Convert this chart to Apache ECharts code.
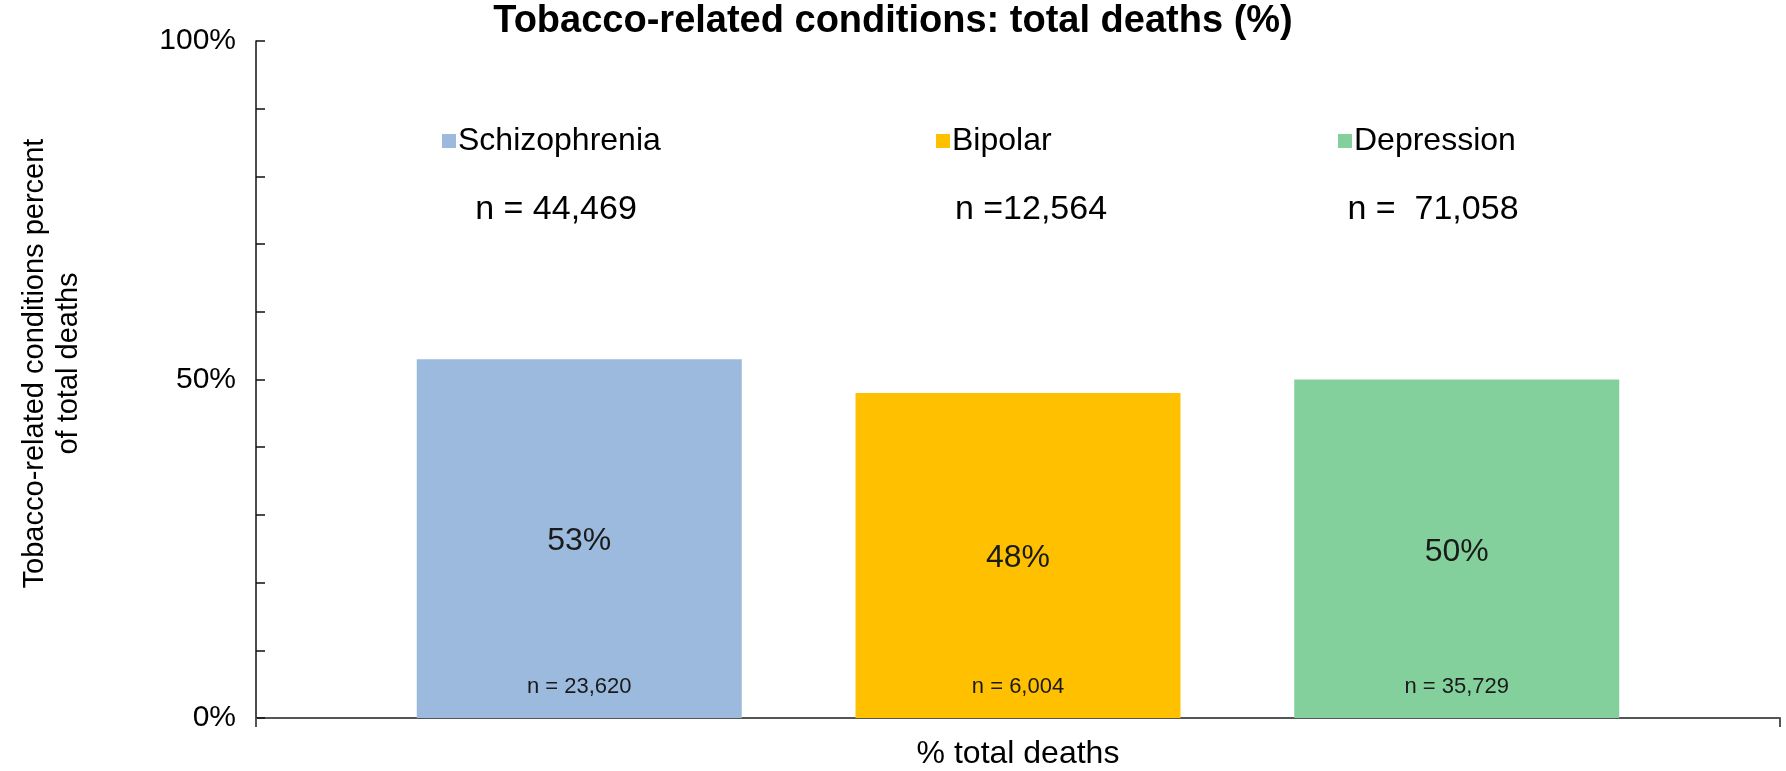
<!DOCTYPE html>
<html>
<head>
<meta charset="utf-8">
<script src="https://cdn.jsdelivr.net/npm/echarts@6/dist/echarts.min.js"></script>
<style>
  html, body { margin: 0; padding: 0; background: #ffffff; }
  #chart { width: 1786px; height: 771px; }
</style>
</head>
<body>
<div id="chart"></div>
<script>
// Chart data
const categories = ['% total deaths'];
const groups = ['Schizophrenia', 'Bipolar', 'Depression'];
const percentValues = [53, 48, 50];            // tobacco-related share of deaths (%)
const tobaccoDeaths = ['23,620', '6,004', '35,729'];
const totalDeaths = ['n = 44,469', 'n =12,564', 'n =  71,058'];
const yTicks = [0, 50, 100];

// Styling
const FONT = '"Liberation Sans", Arial, sans-serif';
const colors = ['#9BBADD', '#FFC000', '#83D09C'];
const legendLeft = [442, 936, 1338];
const totalCenterX = [556, 1031, 1433];

const chart = echarts.init(document.getElementById('chart'), null, { renderer: 'canvas' });

const option = {
  backgroundColor: '#ffffff',
  animation: false,
  title: {
    text: 'Tobacco-related conditions: total deaths (%)',
    left: 'center',
    top: 3,
    padding: 0,
    textStyle: { fontFamily: FONT, fontSize: 38, fontWeight: 'bold', color: '#000000' }
  },
  legend: groups.map((g, i) => ({
    data: [g],
    left: legendLeft[i],
    top: 125,
    padding: 0,
    itemWidth: 14,
    itemHeight: 14,
    icon: 'rect',
    selectedMode: false,
    textStyle: { fontFamily: FONT, fontSize: 32, color: '#000000', padding: [0, 0, 0, -3] }
  })),
  grid: { left: 256, right: 6, top: 41, bottom: 53, containLabel: false, outerBoundsMode: 'none' },
  xAxis: {
    type: 'category',
    data: categories,
    axisLine: { lineStyle: { color: '#555555', width: 2 } },
    axisTick: { show: true, length: 9, lineStyle: { color: '#555555', width: 2 } },
    axisLabel: { fontFamily: FONT, fontSize: 32, color: '#000000', margin: 20 }
  },
  yAxis: {
    type: 'value',
    min: yTicks[0],
    max: yTicks[yTicks.length - 1],
    interval: yTicks[1] - yTicks[0],
    name: 'Tobacco-related conditions percent\nof total deaths',
    nameLocation: 'middle',
    nameGap: 170,
    nameMoveOverlap: false,
    nameTextStyle: { fontFamily: FONT, fontSize: 29, color: '#000000', lineHeight: 34, padding: [0, 0, 0, 32] },
    axisLine: { show: true, lineStyle: { color: '#111111', width: 1.5 } },
    axisTick: { show: true, inside: true, length: 9, lineStyle: { color: '#111111', width: 1.5 } },
    minorTick: { show: true, splitNumber: 5, length: 9, lineStyle: { color: '#111111', width: 1.5 } },
    splitLine: { show: false },
    axisLabel: {
      fontFamily: FONT, fontSize: 30, color: '#000000', margin: 20,
      formatter: v => v + '%'
    }
  },
  series: groups.map((g, i) => ({
    type: 'bar',
    name: g,
    data: [percentValues[i]],
    barWidth: 325,
    barGap: '35%',
    itemStyle: { color: colors[i] },
    label: {
      show: true,
      position: 'inside',
      offset: [0, 3],
      formatter: p => p.value + '%',
      fontFamily: FONT,
      fontSize: 32,
      color: '#1a1a1a'
    },
    markPoint: {
      symbol: 'rect',
      symbolSize: 0,
      silent: true,
      data: [{ coord: [categories[0], 0] }],
      label: {
        show: true,
        position: 'top',
        distance: 20,
        formatter: 'n = ' + tobaccoDeaths[i],
        fontFamily: FONT,
        fontSize: 22,
        color: '#1a1a1a'
      }
    }
  })),
  graphic: totalDeaths.map((t, i) => ({
    type: 'text',
    x: totalCenterX[i],
    y: 210,
    silent: true,
    style: {
      text: t,
      fontFamily: FONT,
      fontSize: 34,
      fill: '#000000',
      textAlign: 'center',
      textVerticalAlign: 'middle'
    }
  }))
};

chart.setOption(option);
</script>
</body>
</html>
